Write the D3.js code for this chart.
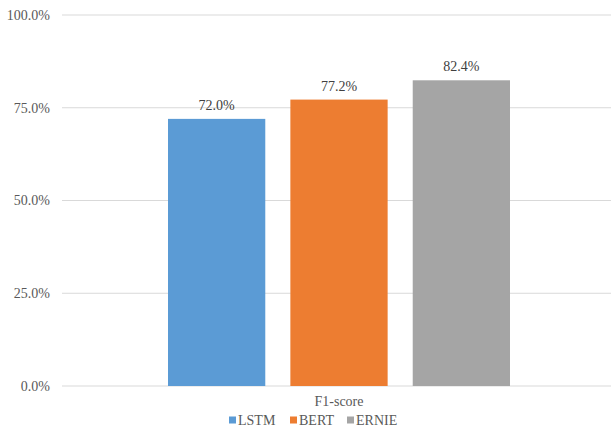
<!DOCTYPE html>
<html>
<head>
<meta charset="utf-8">
<script src="https://cdn.jsdelivr.net/npm/d3@7"></script>
<style>
  body { margin: 0; background: #fff; }
</style>
</head>
<body>
<script>
(function () {
  'use strict'
  const categories = ['F1-score']
  const seriesNames = ['LSTM', 'BERT', 'ERNIE']
  const seriesValues = [0.720, 0.772, 0.824]
  const colors = ['#5B9BD5', '#ED7D31', '#A5A5A5']
  const yTicks = [0, 0.25, 0.5, 0.75, 1.0]

  const width = 611
  const height = 430
  const margin = {top: 15, right: -5, bottom: 44, left: 62}
  const plotW = width - margin.left - margin.right
  const plotH = height - margin.top - margin.bottom
  const font = "'Liberation Serif', 'Times New Roman', Times, serif"
  const fontSize = '14px'

  const svg = d3.select('body').append('svg')
    .attr('width', width)
    .attr('height', height)
    .style('display', 'block')
    .attr('font-family', font)

  const g = svg.append('g')
    .attr('transform', `translate(${margin.left}, ${margin.top})`)

  const y = d3.scaleLinear().domain([0, 1]).range([plotH, 0])
  const x0 = d3.scaleBand().domain(categories).range([0, plotW])
  const x1 = d3.scaleBand().domain(seriesNames)
    .range([106, x0.bandwidth() - 106]).paddingInner(0.205)

  const fmt = d3.format('.1%')

  // gridlines
  g.append('g')
    .selectAll('line')
    .data(yTicks)
    .enter().append('line')
    .attr('x1', 0)
    .attr('x2', plotW)
    .attr('y1', d => y(d))
    .attr('y2', d => y(d))
    .style('stroke', '#D9D9D9')
    .style('stroke-width', 1)

  // y tick labels
  g.append('g')
    .selectAll('text')
    .data(yTicks)
    .enter().append('text')
    .attr('x', -12)
    .attr('y', d => y(d))
    .attr('dy', '0.35em')
    .attr('text-anchor', 'end')
    .attr('font-size', fontSize)
    .attr('fill', '#595959')
    .text(d => fmt(d))

  const data = seriesNames.map((s, i) => ({name: s, value: seriesValues[i], color: colors[i]}))

  const cat = g.append('g')
    .attr('transform', `translate(${x0(categories[0])}, 0)`)

  cat.selectAll('rect')
    .data(data)
    .enter().append('rect')
    .attr('x', d => x1(d.name))
    .attr('y', d => y(d.value))
    .attr('width', x1.bandwidth())
    .attr('height', d => plotH - y(d.value))
    .style('fill', d => d.color)

  cat.selectAll('text.value')
    .data(data)
    .enter().append('text')
    .attr('class', 'value')
    .attr('x', d => x1(d.name) + x1.bandwidth() / 2)
    .attr('y', d => y(d.value) - 9)
    .attr('text-anchor', 'middle')
    .attr('font-size', fontSize)
    .attr('fill', '#404040')
    .text(d => fmt(d.value))

  // category label
  g.append('text')
    .attr('x', x0(categories[0]) + x0.bandwidth() / 2)
    .attr('y', plotH + 20)
    .attr('text-anchor', 'middle')
    .attr('font-size', fontSize)
    .attr('fill', '#595959')
    .text(categories[0])

  // legend
  const legendX = [229, 290, 347]
  const legend = svg.append('g')
    .selectAll('g')
    .data(data)
    .enter().append('g')
    .attr('transform', (d, i) => `translate(${legendX[i]}, 420)`)
  legend.append('rect')
    .attr('x', 0)
    .attr('y', -3.5)
    .attr('width', 7)
    .attr('height', 7)
    .style('fill', d => d.color)
  legend.append('text')
    .attr('x', 9)
    .attr('y', 0)
    .attr('dy', '0.35em')
    .attr('font-size', fontSize)
    .attr('fill', '#595959')
    .text(d => d.name)
})()
</script>
</body>
</html>
